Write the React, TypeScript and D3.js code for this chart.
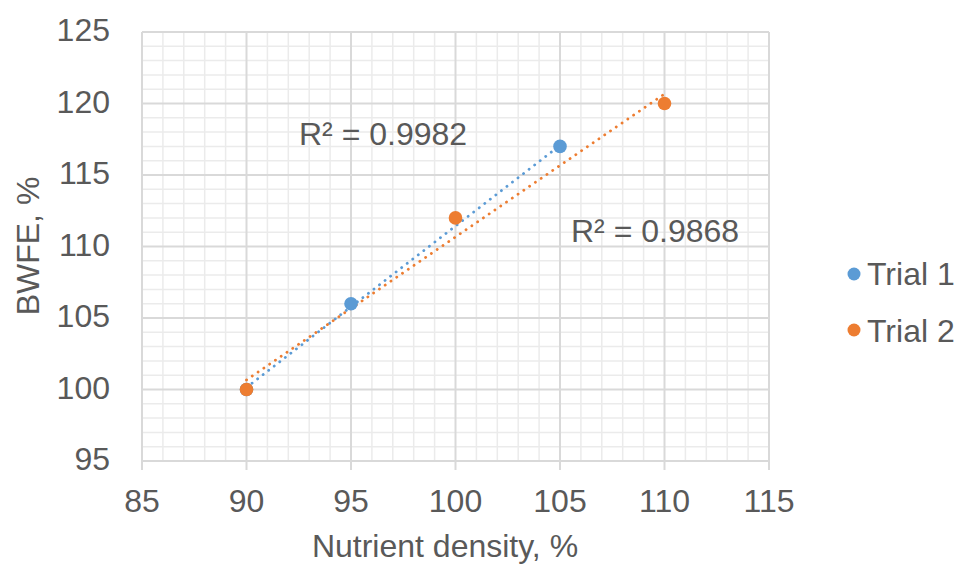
import React from "react";
import * as d3 from "d3";

const trial1X = [90, 95, 105];
const trial1Y = [100, 106, 117];
const trial2X = [90, 100, 110];
const trial2Y = [100, 112, 120];
const seriesNames = ["Trial 1", "Trial 2"];
const r2Labels = ["R² = 0.9982", "R² = 0.9868"];
const xTicks = [85, 90, 95, 100, 105, 110, 115];
const yTicks = [95, 100, 105, 110, 115, 120, 125];

const W = 962, H = 571;
const left = 142, right = 769, top = 32, bottom = 461;
const BLUE = "#5B9BD5", ORANGE = "#ED7D31", TXT = "#595959";
const FONT = "'Liberation Sans', Arial, sans-serif";
const FS = 32;

function fit(xs: number[], ys: number[]) {
  const mx = d3.mean(xs)!, my = d3.mean(ys)!;
  let sxy = 0, sxx = 0;
  xs.forEach((x, i) => { sxy += (x - mx) * (ys[i] - my); sxx += (x - mx) ** 2; });
  const b = sxy / sxx;
  const a = my - b * mx;
  const [x0, x1] = d3.extent(xs) as [number, number];
  return [[x0, a + b * x0], [x1, a + b * x1]];
}

export default function App() {
  const x = d3.scaleLinear().domain([85, 115]).range([left, right]);
  const y = d3.scaleLinear().domain([95, 125]).range([bottom, top]);
  const minorX = d3.range(85, 116, 1).filter(v => v % 5 !== 0);
  const minorY = d3.range(95, 126, 1).filter(v => v % 5 !== 0);
  const line = d3.line<number[]>().x(d => x(d[0])).y(d => y(d[1]));
  const series = [
    { xs: trial1X, ys: trial1Y, color: BLUE },
    { xs: trial2X, ys: trial2Y, color: ORANGE },
  ];
  return (
    <svg width={W} height={H} style={{ position: "absolute", left: 0, top: 0, background: "#fff" }}>
      <rect width={W} height={H} fill="#fff" />
      {minorX.map(v => (
        <line key={"mx" + v} x1={x(v)} x2={x(v)} y1={top} y2={bottom} stroke="#ebebeb" strokeWidth={1.5} />
      ))}
      {minorY.map(v => (
        <line key={"my" + v} x1={left} x2={right} y1={y(v)} y2={y(v)} stroke="#ebebeb" strokeWidth={1.5} />
      ))}
      {xTicks.map(v => (
        <line key={"gx" + v} x1={x(v)} x2={x(v)} y1={top} y2={bottom + 9} stroke="#d9d9d9" strokeWidth={2} />
      ))}
      {yTicks.map(v => (
        <line key={"gy" + v} x1={left} x2={right} y1={y(v)} y2={y(v)} stroke="#d9d9d9" strokeWidth={2} />
      ))}
      {xTicks.map(v => (
        <text key={"tx" + v} x={x(v)} y={512} textAnchor="middle" fontFamily={FONT} fontSize={FS} fill={TXT}>{v}</text>
      ))}
      {yTicks.map(v => (
        <text key={"ty" + v} x={110} y={y(v) + 9} textAnchor="end" fontFamily={FONT} fontSize={FS} fill={TXT}>{v}</text>
      ))}
      <text x={445} y={557} textAnchor="middle" fontFamily={FONT} fontSize={FS} fill={TXT}>Nutrient density, %</text>
      <text transform="translate(39,246) rotate(-90)" textAnchor="middle" fontFamily={FONT} fontSize={FS} fill={TXT}>BWFE, %</text>
      {series.map((s, i) => (
        <path key={"tl" + i} d={line(fit(s.xs, s.ys))!} fill="none" stroke={s.color} strokeWidth={2.8}
          strokeDasharray="0.1 6.9" strokeLinecap="round" />
      ))}
      {series.map((s, i) => s.xs.map((xv, j) => (
        <circle key={"pt" + i + j} cx={x(xv)} cy={y(s.ys[j])} r={6.8} fill={s.color} />
      )))}
      <text x={299} y={145} fontFamily={FONT} fontSize={FS} fill={TXT}>{r2Labels[0]}</text>
      <text x={571} y={242} fontFamily={FONT} fontSize={FS} fill={TXT}>{r2Labels[1]}</text>
      {seriesNames.map((n, i) => (
        <g key={"lg" + i}>
          <circle cx={854} cy={274 + i * 56} r={6.5} fill={i === 0 ? BLUE : ORANGE} />
          <text x={867} y={285 + i * 57} fontFamily={FONT} fontSize={FS} fill={TXT}>{n}</text>
        </g>
      ))}
    </svg>
  );
}
